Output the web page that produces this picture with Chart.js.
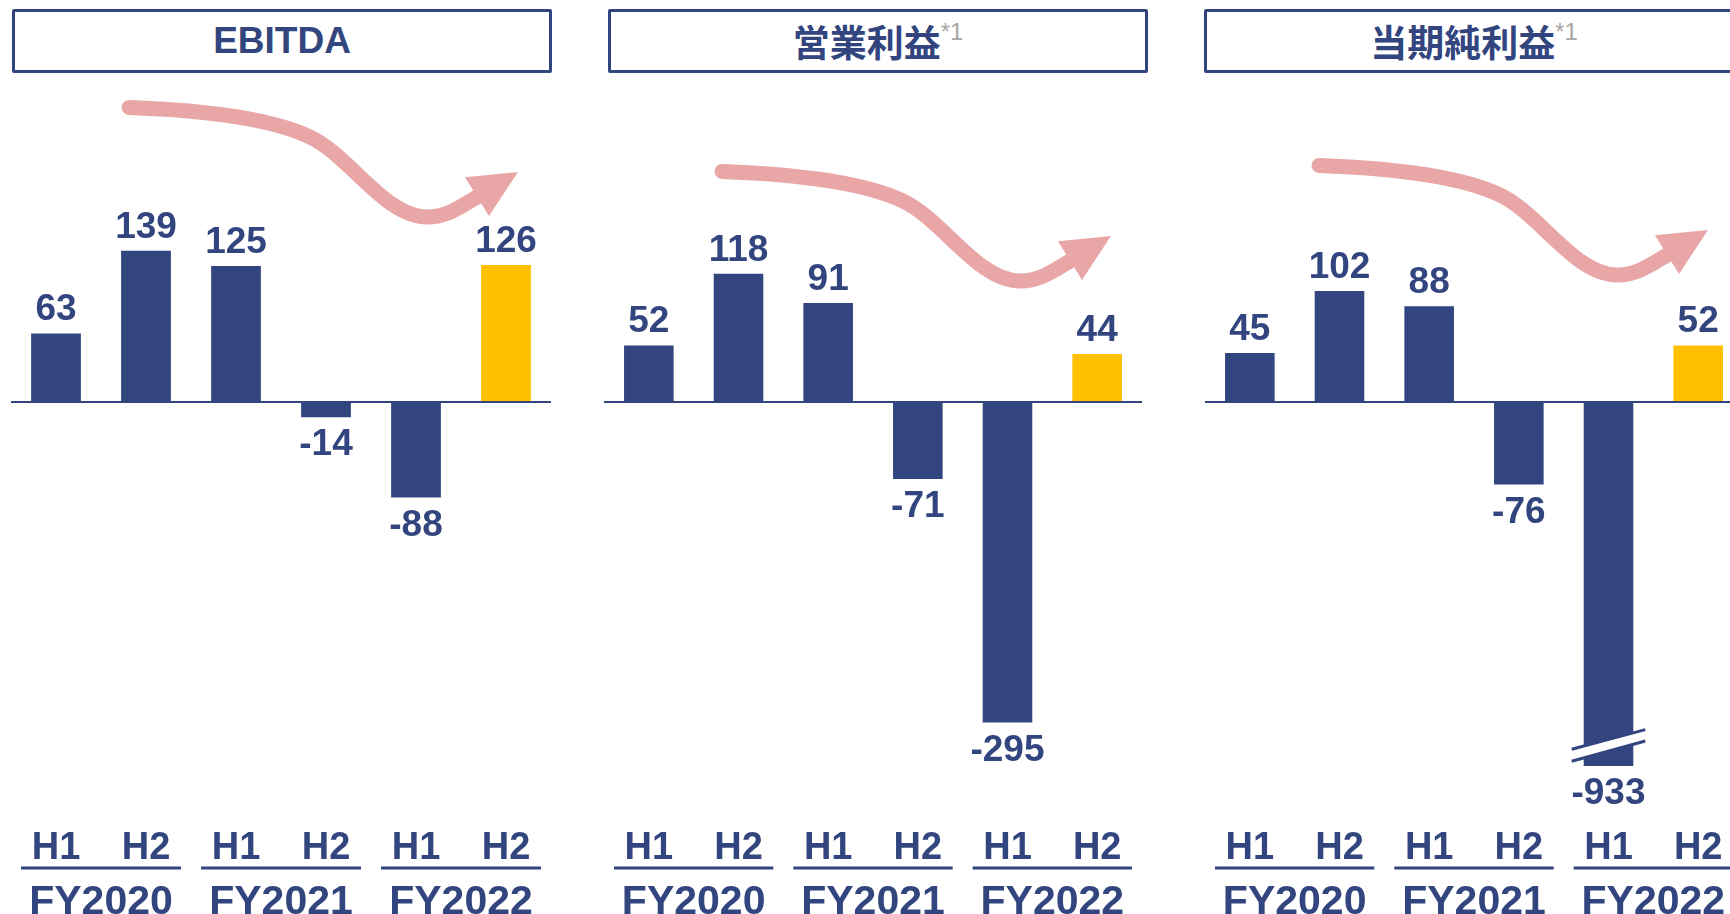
<!DOCTYPE html>
<html>
<head>
<meta charset="utf-8">
<script src="https://cdn.jsdelivr.net/npm/chart.js@4.4.1/dist/chart.umd.min.js"></script>
<style>
  body { margin: 0; width: 1730px; height: 914px; overflow: hidden; background: #fff; position: relative; }
  .title {
    position: absolute; top: 9px; width: 534px; height: 58px;
    border: 3px solid #33457e; border-radius: 2px;
    display: flex; align-items: center; justify-content: center;
    color: #33457e; font-weight: bold; font-size: 37px;
    font-family: "Liberation Sans", Arial, sans-serif;
  }
  .title .jp { font-family: "Noto Sans CJK JP", sans-serif; font-weight: 700; }
  .title .note { font-family: "Liberation Sans", Arial, sans-serif; font-weight: normal; font-size: 24px;
    color: #a6a6a6; position: relative; top: -9px; }
  canvas { position: absolute; top: 0; }
</style>
</head>
<body>
<div class="title" style="left:12px">EBITDA</div>
<div class="title" style="left:608px"><span class="jp">営業利益</span><span class="note">*1</span></div>
<div class="title" style="left:1204px"><span class="jp">当期純利益</span><span class="note">*1</span></div>

<canvas id="c1" width="540" height="914" style="left:11px"></canvas>
<canvas id="c2" width="538" height="914" style="left:604px"></canvas>
<canvas id="c3" width="538" height="914" style="left:1205px"></canvas>

<script>
const periods = ["H1", "H2", "H1", "H2", "H1", "H2"];
const fiscalYears = ["FY2020", "FY2021", "FY2022"];
const ebitda = [63, 139, 125, -14, -88, 126];
const operatingProfit = [52, 118, 91, -71, -295, 44];
const netIncome = [45, 102, 88, -76, -933, 52];

const NAVY = "#33457e";
const YELLOW = "#ffc000";
const PINK = "#e8a6a6";
const FONT = '"Liberation Sans", Arial, sans-serif';

// pink trend arrow, coords relative to the plot area's left edge
function drawArrow(ctx, ox, oy) {
  ctx.save();
  ctx.translate(ox, oy);
  ctx.strokeStyle = PINK;
  ctx.lineWidth = 15;
  ctx.lineCap = "round";
  ctx.beginPath();
  ctx.moveTo(118, 107.5);
  ctx.bezierCurveTo(189, 110, 259, 118, 299, 137);
  ctx.bezierCurveTo(339, 156, 374, 217, 416, 217);
  ctx.bezierCurveTo(436, 217, 451, 206, 466, 197);
  ctx.stroke();
  ctx.fillStyle = PINK;
  ctx.beginPath();
  ctx.moveTo(507, 172);
  ctx.lineTo(454, 177.3);
  ctx.lineTo(478, 216);
  ctx.closePath();
  ctx.fill();
  ctx.restore();
}

// the "broken bar" mark for values that run past the bottom of the plot
function drawBreak(ctx, bar, bottom) {
  const l = bar.x - bar.width / 2 - 12, r = bar.x + bar.width / 2 + 12;
  const a1 = bottom - 16.7, b1 = bottom - 36.4, a2 = bottom - 4.7, b2 = bottom - 25;
  ctx.save();
  ctx.fillStyle = "#fff";
  ctx.beginPath();
  ctx.moveTo(l, a1); ctx.lineTo(r, b1); ctx.lineTo(r, b2); ctx.lineTo(l, a2);
  ctx.closePath();
  ctx.fill();
  ctx.strokeStyle = NAVY;
  ctx.lineWidth = 3;
  ctx.beginPath();
  ctx.moveTo(l, a1); ctx.lineTo(r, b1);
  ctx.moveTo(l, a2); ctx.lineTo(r, b2);
  ctx.stroke();
  ctx.restore();
}

const decorations = {
  id: "decorations",
  afterDatasetsDraw(chart, args, opts) {
    const { ctx, chartArea: area, scales: { x, y } } = chart;
    const meta = chart.getDatasetMeta(0);
    const values = chart.data.datasets[0].data;
    const zero = y.getPixelForValue(0);
    const catW = (area.right - area.left) / periods.length;

    ctx.save();
    ctx.strokeStyle = NAVY;
    ctx.lineWidth = 2;
    ctx.beginPath();
    ctx.moveTo(area.left, zero);
    ctx.lineTo(area.right, zero);
    ctx.stroke();

    ctx.fillStyle = NAVY;
    ctx.textAlign = "center";
    ctx.textBaseline = "alphabetic";
    meta.data.forEach((bar, i) => {
      const v = values[i];
      ctx.font = "bold 37px " + FONT;
      if (v >= 0) {
        ctx.fillText(v, bar.x, bar.y - 13);
      } else {
        const bottom = Math.min(bar.y, area.bottom);
        if (bar.y > area.bottom) drawBreak(ctx, bar, bottom);
        ctx.fillStyle = NAVY;
        ctx.fillText(v, bar.x, bottom + 38);
      }
      ctx.font = "bold 38px " + FONT;
      ctx.fillText(periods[i], bar.x, 859);
    });

    ctx.lineWidth = 3;
    ctx.font = "bold 41px " + FONT;
    fiscalYears.forEach((fy, g) => {
      const l = x.getPixelForValue(2 * g) - catW / 2 + 10;
      const r = x.getPixelForValue(2 * g + 1) + catW / 2 - 10;
      ctx.beginPath();
      ctx.moveTo(l, 868);
      ctx.lineTo(r, 868);
      ctx.stroke();
      ctx.fillText(fy, (l + r) / 2, 914);
    });
    ctx.restore();

    drawArrow(ctx, area.left + opts.arrowDx, opts.arrowDy);
  }
};

function makePanel(id, values, arrowDx, arrowDy) {
  return new Chart(document.getElementById(id), {
    type: "bar",
    data: {
      labels: periods,
      datasets: [{
        data: values,
        backgroundColor: values.map((v, i) => i === values.length - 1 ? YELLOW : NAVY),
        barPercentage: 0.553,
        categoryPercentage: 1
      }]
    },
    options: {
      responsive: false,
      animation: false,
      layout: { padding: { top: 90, bottom: 148, left: 0, right: 0 } },
      scales: {
        x: { display: false },
        y: { display: false, min: -335, max: 287 }
      },
      plugins: {
        legend: { display: false },
        tooltip: { enabled: false },
        decorations: { arrowDx: arrowDx, arrowDy: arrowDy }
      }
    },
    plugins: [decorations]
  });
}

makePanel("c1", ebitda, 0, 0);
makePanel("c2", operatingProfit, 0, 64);
makePanel("c3", netIncome, -4, 58);
</script>
</body>
</html>
